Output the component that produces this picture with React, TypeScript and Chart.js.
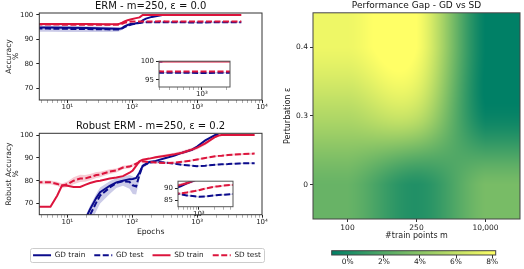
import React, { useEffect, useRef } from 'react';
import { Chart, registerables } from 'chart.js';

Chart.register(...registerables);
Chart.defaults.font.family = "'DejaVu Sans', 'Liberation Sans', sans-serif";
Chart.defaults.color = '#222';

// ---------------- data ----------------
// ERM, m=250, eps=0.0
const ermEpochs = [1, 5, 10, 20, 40, 60, 64, 70, 76, 85, 97, 110, 130, 145, 163, 200, 230, 292, 330, 500, 1000, 2000, 4800];
const ermGdTrain = [94.8, 94.8, 94.7, 94.6, 94.4, 94.3, 94.3, 94.6, 95.3, 95.9, 96.4, 96.5, 96.8, 97.8, 98.5, 99.2, 99.5, 100, 100, null, null, null, null];
const ermGdTest = [94.4, 94.4, 94.3, 94.2, 94.1, 94.0, 94.1, 94.5, 95.0, 95.6, 96.1, 96.4, 96.7, 96.9, 97.0, 97.0, 97.0, 97.0, 97.0, 97.0, 96.9, 97.0, 97.0];
const ermGdTestSpread = [1.3, 1.3, 1.3, 1.2, 1.1, 0.9, 0.8, 0.6, 0.5, 0.4, 0.3, 0.3, 0.2, 0.2, 0.2, 0.2, 0.2, 0.2, 0.2, 0.2, 0.2, 0.2, 0.2];
const ermSdTrain = [96.3, 96.3, 96.3, 96.3, 96.2, 96.3, 96.4, 96.8, 97.3, 97.8, 98.2, 98.6, 99.0, 100, 100, 100, 100, 100, 100, 100, 100, 100, 100];
const ermSdTest = [96.1, 96.1, 96.0, 96.0, 96.0, 96.0, 96.1, 96.4, 96.8, 97.1, 97.3, 97.3, 97.3, 97.3, 97.3, 97.3, 97.3, 97.4, 97.3, 97.3, 97.3, 97.3, 97.3];

// Robust ERM, m=250, eps=0.2
const robEpochs = [1, 5.5, 7, 8.3, 10, 12.5, 15.8, 18.8, 22.4, 28, 32, 45, 57, 72, 91, 102, 115, 129, 145, 183, 230, 329, 450, 589, 836, 1000, 1336, 1897, 2150, 2395, 3000, 4500, 7700];
const robSdTrain = [68.6, 68.6, 73.5, 78.0, 77.8, 77.3, 77.3, 78.2, 79.0, 79.8, 80.0, 81.0, 81.4, 82.0, 83.5, 84.5, 86.5, 88.5, 89.2, 89.7, 90.3, 91.0, 91.6, 92.3, 93.7, 94.5, 96.4, 99.2, 99.8, 100, 100, 100, 100];
const robSdTrainSpread = [0, 0, 0, 0, 0, 0, 0, 0, 0, 0, 0, 0, 0, 0, 0, 0, 0, 0, 0, 0, 0.5, 0.6, 0.7, 0.8, 0.8, 0.8, 0.8, 0.6, 0.3, 0, 0, 0, 0];
const robSdTest = [79.3, 79.3, 78.6, 77.8, 78.5, 80.0, 81.0, 81.0, 81.6, 82.5, 82.7, 84.0, 84.5, 85.8, 86.2, 86.8, 87.5, 88.2, 88.5, 88.2, 88.0, 87.8, 87.9, 88.3, 88.9, 89.3, 90.0, 90.7, 90.9, 91.0, 91.3, 91.6, 91.9];
const robSdTestSpread = [0.8, 0.8, 0.9, 1.0, 1.2, 1.5, 1.6, 1.5, 1.4, 1.3, 1.2, 1.0, 0.9, 0.8, 0.7, 0.6, 0.5, 0.5, 0.4, 0.4, 0.4, 0.4, 0.4, 0.4, 0.4, 0.4, 0.4, 0.4, 0.4, 0.4, 0.4, 0.4, 0.4];
const robGdTrain = [null, null, null, null, null, 52, 58, 63, 67.5, 72.5, 75, 77.8, 79.3, 80.0, 80.7, 80.8, 81.2, 83.5, 86.5, 88.2, 88.7, 90.0, 91.0, 92.3, 93.6, 95.0, 97.7, 100, 100, null, null, null, null];
const robGdTest = [null, null, null, null, null, 48, 55, 60, 65, 70.5, 73.5, 77.0, 79.0, 79.8, 79.5, 78.0, 77.5, 82.5, 86.5, 88.0, 88.3, 88.0, 87.5, 87.0, 86.6, 86.4, 86.6, 87.0, 87.1, 87.2, 87.3, 87.6, 87.7];
const robGdTestSpread = [0, 0, 0, 0, 0, 4, 4, 4, 4, 3.8, 3.5, 2.8, 2.2, 2.0, 3.0, 3.8, 3.5, 2.0, 1.0, 0.6, 0.5, 0.4, 0.3, 0.3, 0.3, 0.3, 0.3, 0.3, 0.3, 0.3, 0.3, 0.3, 0.3];

const epochTickValues = [10, 100, 1000, 10000];
const epochTickLabels = ['10\u00b9', '10\u00b2', '10\u00b3', '10\u2074'];
const accTicks = [70, 80, 90, 100];
const ermInsetTicks = [95, 100];
const robInsetTicks = [85, 90];
const legendNames = ['GD train', 'GD test', 'SD train', 'SD test'];

// Performance gap heatmap (GD vs SD), rows by perturbation eps
const gapM = ['100', '250', '10,000'];
const gapEps = ['0', '0.3', '0.4'];
const gapEps0 = [2.8, 0.3, 3.4];
const gapEps03 = [5.4, 6.0, -0.6];
const gapEps04 = [7.6, 8.2, -0.89];
const gapColorTicks = [0, 2, 4, 6, 8];

// ---------------- styling ----------------
const NAVY = '#0b0b8c';
const CRIMSON = '#dc143c';
const NAVY_BAND = 'rgba(20,20,150,0.22)';
const CRIMSON_BAND = 'rgba(220,20,60,0.22)';
const DASH = [6, 2.5];
const TXT = '#222';

// ---------------- helpers ----------------
const pts = (xs: number[], ys: (number | null)[]) => xs.map((x, i) => ({ x, y: ys[i] }));
const band = (xs: number[], ys: (number | null)[], sp: number[], sign: number) =>
  xs.map((x, i) => ({ x, y: ys[i] == null ? null : (ys[i] as number) + sign * sp[i] }));

function lineDs(label: string, data: any[], color: string, dashed: boolean) {
  return {
    label, data, borderColor: color, backgroundColor: color, borderWidth: 2,
    borderDash: dashed ? DASH : [], pointRadius: 0, fill: false, tension: 0, spanGaps: false,
  };
}
function bandDs(data: any[], color: string, upper: boolean) {
  return {
    label: '_band', data, borderWidth: 0, borderColor: 'rgba(0,0,0,0)', backgroundColor: color,
    pointRadius: 0, fill: upper ? '+1' : false, tension: 0, spanGaps: false,
  };
}

function minorLogTicks(min: number, max: number) {
  const out: number[] = [];
  for (let e = Math.floor(Math.log10(min)); e <= Math.ceil(Math.log10(max)); e++) {
    for (let m = 1; m <= 9; m++) {
      const v = m * Math.pow(10, e);
      if (v >= min - 1e-9 && v <= max + 1e-9) out.push(v);
    }
  }
  return out;
}

function epochAxis(min: number, max: number, height: number, title?: string) {
  return {
    type: 'logarithmic', min, max,
    afterBuildTicks: (s: any) => { s.ticks = minorLogTicks(min, max).map((v) => ({ value: v })); },
    afterFit: (s: any) => { s.height = height; },
    ticks: {
      autoSkip: false, maxRotation: 0, minRotation: 0, padding: 0, font: { size: 7 }, color: TXT,
      callback: (v: any) => { const i = epochTickValues.indexOf(Number(v)); return i >= 0 ? epochTickLabels[i] : ''; },
    },
    grid: {
      drawOnChartArea: false, drawTicks: true, tickLength: 3,
      tickColor: (c: any) => (c.tick && epochTickValues.includes(c.tick.value) ? '#222' : '#777'),
      tickWidth: (c: any) => (c.tick && epochTickValues.includes(c.tick.value) ? 1 : 0.6),
    },
    border: { display: false },
    title: title
      ? { display: true, text: title, font: { size: 7.7 }, color: TXT, padding: { top: 0, bottom: 6 } }
      : { display: false },
  };
}

function valueAxis(min: number, max: number, tickVals: number[], width: number, title?: string[], tickPad = 3) {
  return {
    type: 'linear', min, max,
    afterBuildTicks: (s: any) => { s.ticks = tickVals.map((v) => ({ value: v })); },
    afterFit: (s: any) => { s.width = width; },
    ticks: { autoSkip: false, padding: tickPad, font: { size: 7 }, color: TXT, callback: (v: any) => String(v) },
    grid: { drawOnChartArea: false, drawTicks: true, tickLength: 3, tickColor: '#222', tickWidth: 1 },
    border: { display: false },
    title: title
      ? { display: true, text: title, font: { size: 7.6, lineHeight: 1.0 }, color: TXT, padding: { top: 5, bottom: 0 } }
      : { display: false },
  };
}

const framePlugin = (color = '#333') => ({
  id: 'frame',
  afterDatasetsDraw(chart: any) {
    const { ctx, chartArea: a } = chart;
    ctx.save();
    ctx.strokeStyle = color;
    ctx.lineWidth = 1;
    ctx.strokeRect(a.left, a.top, a.right - a.left, a.bottom - a.top);
    ctx.restore();
  },
});

const whiteAreaPlugin = {
  id: 'whiteArea',
  beforeDraw(chart: any) {
    const { ctx, chartArea: a } = chart;
    ctx.save();
    ctx.fillStyle = '#fff';
    ctx.fillRect(a.left, a.top, a.right - a.left, a.bottom - a.top);
    ctx.restore();
  },
};

const legendFramePlugin = {
  id: 'legendFrame',
  afterDraw(chart: any) {
    const lg = chart.legend;
    if (!lg || !lg.legendHitBoxes || !lg.legendHitBoxes.length) return;
    const hb = lg.legendHitBoxes;
    const l = Math.min(...hb.map((h: any) => h.left)) - 3;
    const r = Math.max(...hb.map((h: any) => h.left + h.width)) + 3;
    const t = Math.min(...hb.map((h: any) => h.top)) - 3.5;
    const b = Math.max(...hb.map((h: any) => h.top + h.height)) + 3.5;
    const ctx = chart.ctx;
    ctx.save();
    ctx.strokeStyle = '#cccccc';
    ctx.lineWidth = 1;
    ctx.beginPath();
    if (ctx.roundRect) ctx.roundRect(Math.round(l) + 0.5, Math.round(t) + 0.5, Math.round(r - l), Math.round(b - t), 2);
    else ctx.rect(Math.round(l) + 0.5, Math.round(t) + 0.5, Math.round(r - l), Math.round(b - t));
    ctx.stroke();
    ctx.restore();
  },
};

function summer(t: number) {
  const c = Math.max(0, Math.min(1, t));
  return [Math.round(255 * c), Math.round(255 * (0.5 + 0.5 * c)), 102];
}
function gapRows() {
  return [gapEps0, gapEps03, gapEps04];
}
function gapRange() {
  const all = [...gapEps0, ...gapEps03, ...gapEps04];
  return { lo: Math.min(...all), hi: Math.max(...all) };
}

// cubic (Keys, a = -0.5) kernel, as used for bicubic image interpolation
function keys(x: number) {
  const a = -0.5;
  const t = Math.abs(x);
  if (t <= 1) return (a + 2) * t * t * t - (a + 3) * t * t + 1;
  if (t < 2) return a * t * t * t - 5 * a * t * t + 8 * a * t - 4 * a;
  return 0;
}

// bicubic-interpolated image of the cells, mapped through the chart scales
const heatmapPlugin = {
  id: 'heatmapImage',
  beforeDatasetsDraw(chart: any) {
    const cells = chart.data.datasets[0].data as { x: number; y: number; v: number }[];
    const nx = gapM.length, ny = gapEps.length;
    const grid: number[][] = Array.from({ length: ny }, () => new Array(nx).fill(0));
    cells.forEach((c) => { grid[c.y][c.x] = c.v; });
    const { lo, hi } = gapRange();
    const xs = chart.scales.x, ys = chart.scales.y;
    const a = chart.chartArea;
    const L = Math.round(a.left), T = Math.round(a.top);
    const W = Math.round(a.right) - L, H = Math.round(a.bottom) - T;
    const ctx = chart.ctx as CanvasRenderingContext2D;
    const img = ctx.createImageData(W, H);
    const ci = (k: number, m: number) => Math.max(0, Math.min(m - 1, k));
    const clampV = (v: number, m: number) => Math.max(0, Math.min(m - 1, v));
    for (let py = 0; py < H; py++) {
      const yv = clampV(ys.getValueForPixel(T + py + 0.5), ny);
      const j0 = Math.floor(yv);
      const wy = [-1, 0, 1, 2].map((d) => keys(yv - (j0 + d)));
      for (let px = 0; px < W; px++) {
        const xv = clampV(xs.getValueForPixel(L + px + 0.5), nx);
        const i0 = Math.floor(xv);
        let v = 0;
        for (let dj = 0; dj < 4; dj++) {
          const row = grid[ci(j0 + dj - 1, ny)];
          let s = 0;
          for (let di = 0; di < 4; di++) s += row[ci(i0 + di - 1, nx)] * keys(xv - (i0 + di - 1));
          v += s * wy[dj];
        }
        const [r, g, b] = summer((v - lo) / (hi - lo));
        const k = (py * W + px) * 4;
        img.data[k] = r; img.data[k + 1] = g; img.data[k + 2] = b; img.data[k + 3] = 255;
      }
    }
    ctx.putImageData(img, L, T);
  },
};

const colorbarPlugin = {
  id: 'colorbar',
  beforeDatasetsDraw(chart: any) {
    const { ctx, chartArea: a } = chart;
    const xs = chart.scales.x;
    const { lo, hi } = gapRange();
    const g = ctx.createLinearGradient(xs.getPixelForValue(lo), 0, xs.getPixelForValue(hi), 0);
    const c0 = summer(0), c1 = summer(1);
    g.addColorStop(0, `rgb(${c0.join(',')})`);
    g.addColorStop(1, `rgb(${c1.join(',')})`);
    ctx.save();
    ctx.fillStyle = g;
    ctx.fillRect(a.left, a.top, a.right - a.left, a.bottom - a.top);
    ctx.restore();
  },
};

// ---------------- configs ----------------
const baseOpts = {
  responsive: false,
  animation: false,
  events: [],
  elements: { point: { radius: 0 }, line: { tension: 0 } },
};

function ermDatasets() {
  return [
    lineDs('SD test', pts(ermEpochs, ermSdTest), CRIMSON, true),
    lineDs('SD train', pts(ermEpochs, ermSdTrain), CRIMSON, false),
    lineDs('GD test', pts(ermEpochs, ermGdTest), NAVY, true),
    lineDs('GD train', pts(ermEpochs, ermGdTrain), NAVY, false),
    bandDs(band(ermEpochs, ermGdTest, ermGdTestSpread, 1), NAVY_BAND, true),
    bandDs(band(ermEpochs, ermGdTest, ermGdTestSpread, -1), NAVY_BAND, false),
  ];
}

function robDatasets() {
  return [
    lineDs('SD test', pts(robEpochs, robSdTest), CRIMSON, true),
    lineDs('SD train', pts(robEpochs, robSdTrain), CRIMSON, false),
    lineDs('GD test', pts(robEpochs, robGdTest), NAVY, true),
    lineDs('GD train', pts(robEpochs, robGdTrain), NAVY, false),
    bandDs(band(robEpochs, robSdTest, robSdTestSpread, 1), CRIMSON_BAND, true),
    bandDs(band(robEpochs, robSdTest, robSdTestSpread, -1), CRIMSON_BAND, false),
    bandDs(band(robEpochs, robSdTrain, robSdTrainSpread, 1), CRIMSON_BAND, true),
    bandDs(band(robEpochs, robSdTrain, robSdTrainSpread, -1), CRIMSON_BAND, false),
    bandDs(band(robEpochs, robGdTest, robGdTestSpread, 1), NAVY_BAND, true),
    bandDs(band(robEpochs, robGdTest, robGdTestSpread, -1), NAVY_BAND, false),
  ];
}

function titleOpt(text: string, size: number, top: number, bottom: number) {
  return {
    display: true, text, fullSize: false, font: { size, weight: 'normal' }, color: '#111',
    padding: { top, bottom },
  };
}

function ermConfig() {
  return {
    type: 'line',
    data: { datasets: ermDatasets() },
    options: {
      ...baseOpts,
      layout: { padding: { left: 0, right: 8, top: 0, bottom: 0 } },
      plugins: {
        legend: { display: false }, tooltip: { enabled: false },
        title: titleOpt('ERM - m=250, \u03b5 = 0.0', 10, 0, 1),
      },
      scales: {
        x: epochAxis(3.7, 10000, 20),
        y: valueAxis(65.1, 100.8, accTicks, 39.3, ['Accuracy', '%']),
      },
    },
    plugins: [framePlugin('#333')],
  };
}

const legendStyle = [
  { ds: 3, color: NAVY, dashed: false },
  { ds: 2, color: NAVY, dashed: true },
  { ds: 1, color: CRIMSON, dashed: false },
  { ds: 0, color: CRIMSON, dashed: true },
];

function robustConfig() {
  return {
    type: 'line',
    data: { datasets: robDatasets() },
    options: {
      ...baseOpts,
      layout: { padding: { left: 0, right: 6, top: 0.3, bottom: 0 } },
      plugins: {
        tooltip: { enabled: false },
        title: titleOpt('Robust ERM - m=250, \u03b5 = 0.2', 10, 0, 1),
        legend: {
          display: true, position: 'bottom', fullSize: true, align: 'center',
          labels: {
            usePointStyle: true, pointStyleWidth: 18, boxHeight: 7, padding: 9,
            font: { size: 7.3 }, color: TXT,
            generateLabels: () => legendStyle.map((s, i) => ({
              text: legendNames[i], fillStyle: s.color, strokeStyle: s.color, lineWidth: 2,
              lineDash: s.dashed ? DASH : [], pointStyle: 'line', datasetIndex: s.ds, hidden: false,
              fontColor: TXT,
            })),
          },
        },
      },
      scales: {
        x: epochAxis(3.7, 10000, 28, 'Epochs'),
        y: valueAxis(65.1, 100.8, accTicks, 39.3, ['Robust Accuracy', '%']),
        yRight: {
          type: 'linear', position: 'right', min: 0, max: 1, display: true,
          afterFit: (s: any) => { s.width = 32; },
          ticks: { display: false }, grid: { display: false, drawTicks: false }, border: { display: false },
        },
      },
    },
    plugins: [framePlugin('#333'), legendFramePlugin],
  };
}

function insetConfig(datasets: any[], xmin: number, xmax: number, ymin: number, ymax: number, yticks: number[], yw: number, xh: number, pads: any) {
  return {
    type: 'line',
    data: { datasets },
    options: {
      ...baseOpts,
      layout: { padding: pads },
      plugins: { legend: { display: false }, tooltip: { enabled: false }, title: { display: false } },
      scales: {
        x: epochAxis(xmin, xmax, xh),
        y: valueAxis(ymin, ymax, yticks, yw, undefined, 2),
      },
    },
    plugins: [whiteAreaPlugin, framePlugin('#555')],
  };
}

const ermInsetConfig = () =>
  insetConfig(ermDatasets(), 300, 2200, 93.1, 100.1, ermInsetTicks, 19, 13, { left: 0, right: 3, top: 6, bottom: 0 });
const robInsetConfig = () =>
  insetConfig(robDatasets(), 400, 4500, 82.1, 93.2, robInsetTicks, 18, 13.3, { left: 0, right: 3, top: 5.7, bottom: 0 });

function catAxis(labels: string[], fit: (s: any) => void, title: string, titlePad: any) {
  return {
    type: 'linear', min: -0.5, max: labels.length - 0.5,
    afterBuildTicks: (s: any) => { s.ticks = labels.map((_, i) => ({ value: i })); },
    afterFit: fit,
    ticks: {
      autoSkip: false, maxRotation: 0, padding: 2, font: { size: 7.5 }, color: TXT,
      callback: (v: any) => labels[Number(v)] ?? '',
    },
    grid: { drawOnChartArea: false, drawTicks: true, tickLength: 3, tickColor: '#333' },
    border: { display: false },
    title: { display: true, text: title, font: { size: 8 }, color: TXT, padding: titlePad },
  };
}

function gapConfig() {
  const cells: any[] = [];
  gapRows().forEach((r, yi) => r.forEach((v, xi) => cells.push({ x: xi, y: yi, v })));
  return {
    type: 'scatter',
    data: { datasets: [{ data: cells, pointRadius: 0 }] },
    options: {
      ...baseOpts,
      layout: { padding: { left: 0, right: 4, top: 0, bottom: 0 } },
      plugins: {
        legend: { display: false }, tooltip: { enabled: false },
        title: titleOpt('Performance Gap - GD vs SD', 9, 0, 2),
      },
      scales: {
        x: catAxis(gapM, (s: any) => { s.height = 26; }, '#train points m', { top: 0, bottom: 4 }),
        y: catAxis(gapEps, (s: any) => { s.width = 43; }, 'Perturbation \u03b5', { top: 13, bottom: 0 }),
      },
    },
    plugins: [heatmapPlugin, framePlugin('#444')],
  };
}

function colorbarConfig() {
  const { lo, hi } = gapRange();
  return {
    type: 'scatter',
    data: { datasets: [{ data: [], pointRadius: 0 }] },
    options: {
      ...baseOpts,
      layout: { padding: { left: 61.7, right: 28.3, top: 5.7, bottom: 0 } },
      plugins: { legend: { display: false }, tooltip: { enabled: false }, title: { display: false } },
      scales: {
        x: {
          type: 'linear', min: lo, max: hi,
          afterBuildTicks: (s: any) => { s.ticks = gapColorTicks.map((v) => ({ value: v })); },
          afterFit: (s: any) => { s.height = 14; },
          ticks: { autoSkip: false, maxRotation: 0, padding: 0, font: { size: 7.5 }, color: TXT, callback: (v: any) => `${v}%` },
          grid: { drawOnChartArea: false, drawTicks: true, tickLength: 3, tickColor: '#333' },
          border: { display: false },
        },
        y: { type: 'linear', min: 0, max: 1, display: false },
      },
    },
    plugins: [colorbarPlugin, framePlugin('#444')],
  };
}

// ---------------- components ----------------
function ChartBox({ x, y, w, h, make }: { x: number; y: number; w: number; h: number; make: () => any }) {
  const ref = useRef<HTMLCanvasElement>(null);
  useEffect(() => {
    const chart = new Chart(ref.current as HTMLCanvasElement, make());
    return () => chart.destroy();
  }, []);
  return (
    <canvas
      ref={ref}
      width={w}
      height={h}
      style={{ position: 'absolute', left: x, top: y, width: w, height: h, display: 'block' }}
    />
  );
}

export default function App() {
  return (
    <div style={{ position: 'fixed', left: 0, top: 0, width: 524, height: 269, background: '#fff', overflow: 'hidden' }}>
      <ChartBox x={0} y={0} w={270} h={120} make={ermConfig} />
      <ChartBox x={0} y={120} w={300} h={149} make={robustConfig} />
      <ChartBox x={270} y={0} w={254} h={245} make={gapConfig} />
      <ChartBox x={270} y={245} w={254} h={24} make={colorbarConfig} />
      <ChartBox x={140} y={55} w={93} h={45} make={ermInsetConfig} />
      <ChartBox x={160} y={175} w={76} h={45} make={robInsetConfig} />
    </div>
  );
}
